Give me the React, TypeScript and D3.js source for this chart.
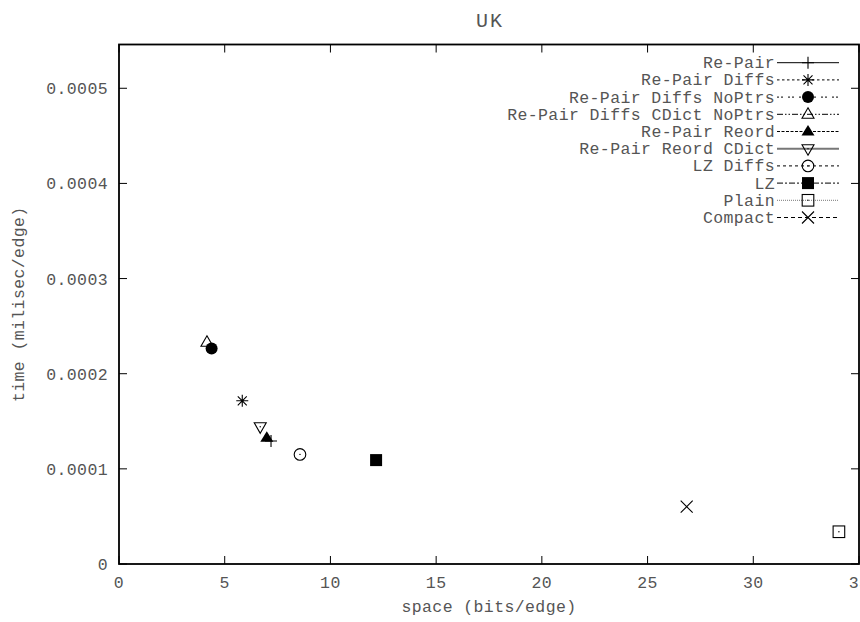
import React from 'react';
import * as d3 from 'd3';

// Data
const seriesNames = [
  'Re-Pair',
  'Re-Pair Diffs',
  'Re-Pair Diffs NoPtrs',
  'Re-Pair Diffs CDict NoPtrs',
  'Re-Pair Reord',
  'Re-Pair Reord CDict',
  'LZ Diffs',
  'LZ',
  'Plain',
  'Compact',
];
const spaceValues = [7.19, 5.83, 4.38, 4.16, 6.99, 6.68, 8.56, 12.16, 34.05, 26.85];
const timeValues = [1.292e-4, 1.715e-4, 2.266e-4, 2.33e-4, 1.327e-4, 1.442e-4, 1.152e-4, 1.092e-4, 0.339e-4, 0.602e-4];
const markerKinds = ['plus', 'star', 'circleFill', 'triUp', 'triUpFill', 'triDown', 'circleDot', 'squareFill', 'squareDot', 'cross'];
const dashes = ['', '2.5,2.5', '2,2,2,5', '6,2,1.5,2,1.5,2', '3,1.5', '', '3,3', '6,2,2,2', '1,1', '4,3'];

const xTicks = [0, 5, 10, 15, 20, 25, 30, 35];
const yTicks = [0, 0.0001, 0.0002, 0.0003, 0.0004, 0.0005];
const yTickLabels = ['0', '0.0001', '0.0002', '0.0003', '0.0004', '0.0005'];

const W = 860;
const H = 622;
const margin = { top: 44.5, right: 1, bottom: 58, left: 119 };
const FONT = '"Liberation Mono", "DejaVu Sans Mono", monospace';
const TEXT = '#555';
const FS = 16.5;

const x = d3.scaleLinear().domain([0, 35]).range([margin.left, W - margin.right]);
const y = d3.scaleLinear().domain([0, 0.000546]).range([H - margin.bottom, margin.top]);

function Marker({ kind, cx, cy }: { kind: string; cx: number; cy: number }) {
  const s = 6;
  const st = { stroke: '#000', strokeWidth: 1.1 };
  const dot = <circle cx={cx} cy={cy} r={0.7} fill="#000" />;
  switch (kind) {
    case 'plus':
      return <path d={`M${cx - s},${cy}H${cx + s}M${cx},${cy - s}V${cy + s}`} {...st} fill="none" />;
    case 'star':
      return (
        <path
          d={`M${cx - s},${cy}H${cx + s}M${cx},${cy - s}V${cy + s}M${cx - 4.5},${cy - 4.5}L${cx + 4.5},${cy + 4.5}M${cx - 4.5},${cy + 4.5}L${cx + 4.5},${cy - 4.5}`}
          {...st}
          fill="none"
        />
      );
    case 'circleFill':
      return <circle cx={cx} cy={cy} r={6} fill="#000" />;
    case 'triUp':
      return <path d={`M${cx},${cy - 6.5}L${cx + 6},${cy + 4}L${cx - 6},${cy + 4}Z`} {...st} fill="none" />;
    case 'triUpFill':
      return <path d={`M${cx},${cy - 6.5}L${cx + 6.5},${cy + 4}L${cx - 6.5},${cy + 4}Z`} fill="#000" />;
    case 'triDown':
      return (
        <g>
          <path d={`M${cx},${cy + 6.5}L${cx + 6},${cy - 4}L${cx - 6},${cy - 4}Z`} {...st} fill="none" />
          {dot}
        </g>
      );
    case 'circleDot':
      return (
        <g>
          <circle cx={cx} cy={cy} r={5.8} {...st} fill="none" />
          {dot}
        </g>
      );
    case 'squareFill':
      return <rect x={cx - 6} y={cy - 6} width={12} height={12} fill="#000" />;
    case 'squareDot':
      return (
        <g>
          <rect x={cx - 5.8} y={cy - 5.8} width={11.6} height={11.6} {...st} fill="none" />
          {dot}
        </g>
      );
    case 'cross':
      return <path d={`M${cx - 6},${cy - 6}L${cx + 6},${cy + 6}M${cx - 6},${cy + 6}L${cx + 6},${cy - 6}`} {...st} fill="none" />;
    default:
      return null;
  }
}

export default function App() {
  const x0 = margin.left;
  const x1 = W - margin.right;
  const y0 = H - margin.bottom;
  const y1 = margin.top;
  const tick = 8;

  const legendTextX = 775;
  const legendLine = [777, 839];
  const legendMarkX = 808;
  const legendY0 = 62.7;
  const legendStep = 17.2;

  return (
    <svg width={W} height={H} style={{ position: 'absolute', left: 0, top: 0, background: '#fff' }}>
      <rect width={W} height={H} fill="#fff" />
      {/* title */}
      <text x={490} y={27} textAnchor="middle" fontFamily={FONT} fontSize={20} fill={TEXT} letterSpacing={2}>
        UK
      </text>

      {/* ticks, mirrored on all sides */}
      <g stroke="#000" strokeWidth={1}>
        {xTicks.map((t) => (
          <g key={'xt' + t}>
            <line x1={x(t)} x2={x(t)} y1={y0} y2={y0 - tick} />
            <line x1={x(t)} x2={x(t)} y1={y1} y2={y1 + tick} />
          </g>
        ))}
        {yTicks.map((t) => (
          <g key={'yt' + t}>
            <line x1={x0} x2={x0 + tick} y1={y(t)} y2={y(t)} />
            <line x1={x1} x2={x1 - tick} y1={y(t)} y2={y(t)} />
          </g>
        ))}
      </g>

      {/* frame */}
      <rect x={x0} y={y1} width={x1 - x0} height={y0 - y1} fill="none" stroke="#000" strokeWidth={1.8} />

      {/* tick labels */}
      <g fontFamily={FONT} fontSize={FS} fill={TEXT} letterSpacing={0.4}>
        {xTicks.map((t) => (
          <text key={'xl' + t} x={x(t)} y={y0 + 24} textAnchor="middle">
            {String(t)}
          </text>
        ))}
        {yTicks.map((t, i) => (
          <text key={'yl' + t} x={x0 - 11} y={y(t) + 6} textAnchor="end">
            {yTickLabels[i]}
          </text>
        ))}
      </g>

      {/* axis labels */}
      <text x={489} y={612} textAnchor="middle" fontFamily={FONT} fontSize={FS} fill={TEXT} letterSpacing={0.4}>
        space (bits/edge)
      </text>
      <text
        transform={`translate(24,${(y0 + y1) / 2}) rotate(-90)`}
        textAnchor="middle"
        fontFamily={FONT}
        fontSize={FS}
        fill={TEXT}
        letterSpacing={0.4}
      >
        time (milisec/edge)
      </text>

      {/* points */}
      {seriesNames.map((n, i) => (
        <Marker key={'p' + n} kind={markerKinds[i]} cx={x(spaceValues[i])} cy={y(timeValues[i])} />
      ))}

      {/* legend */}
      <g>
        {seriesNames.map((n, i) => {
          const ly = legendY0 + i * legendStep;
          const gray = i === 5 || i === 8;
          return (
            <g key={'lg' + n}>
              <text x={legendTextX} y={ly + 5.5} textAnchor="end" fontFamily={FONT} fontSize={FS} fill={TEXT} letterSpacing={0.4}>
                {n}
              </text>
              <line
                x1={legendLine[0]}
                x2={legendLine[1]}
                y1={ly}
                y2={ly}
                stroke={gray ? '#777' : '#000'}
                strokeWidth={i === 5 ? 2 : 1}
                strokeDasharray={dashes[i] || undefined}
              />
              <Marker kind={markerKinds[i]} cx={legendMarkX} cy={ly} />
            </g>
          );
        })}
      </g>
    </svg>
  );
}
